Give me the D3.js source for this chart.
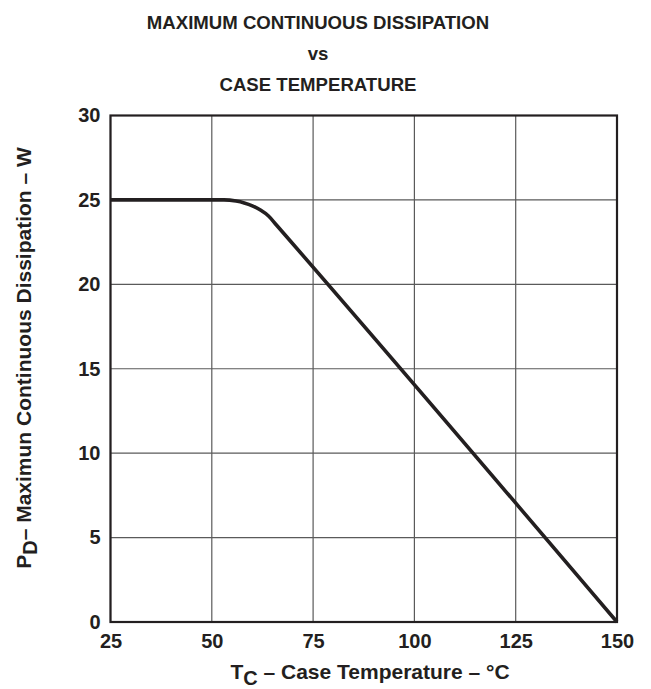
<!DOCTYPE html>
<html><head><meta charset="utf-8">
<script src="https://cdn.jsdelivr.net/npm/d3@7"></script>
<style>body{margin:0;background:#fff}</style>
</head><body>
<svg id="c" width="651" height="689"></svg>
<script>
const xTicks = [25, 50, 75, 100, 125, 150];
const yTicks = [0, 5, 10, 15, 20, 25, 30];
const tempC = [25, 50, 53, 56, 58, 60, 62, 64, 66, 150];
const powerW = [25, 25, 25, 24.93, 24.82, 24.65, 24.4, 24.05, 23.5, 0];
const titleLines = ["MAXIMUM CONTINUOUS DISSIPATION", "vs", "CASE TEMPERATURE"];

const svg = d3.select("#c");
const L = 110.5, R = 617, T = 115.5, B = 622;
const x = d3.scaleLinear().domain([25, 150]).range([L, R]);
const y = d3.scaleLinear().domain([0, 30]).range([B, T]);
const font = "'Liberation Sans', Arial, sans-serif";
const ink = "#231f20";

// grid
svg.append("g").selectAll("line").data(xTicks).join("line")
  .attr("x1", d => x(d)).attr("x2", d => x(d)).attr("y1", T).attr("y2", B)
  .attr("stroke", "#5a5a5a").attr("stroke-width", 1.2);
svg.append("g").selectAll("line").data(yTicks).join("line")
  .attr("y1", d => y(d)).attr("y2", d => y(d)).attr("x1", L).attr("x2", R)
  .attr("stroke", "#5a5a5a").attr("stroke-width", 1.2);

// frame
svg.append("rect").attr("x", L).attr("y", T).attr("width", R - L).attr("height", B - T)
  .attr("fill", "none").attr("stroke", ink).attr("stroke-width", 2.2);

// curve
const pts = tempC.map((t, i) => [t, powerW[i]]);
svg.append("path").datum(pts)
  .attr("d", d3.line().x(d => x(d[0])).y(d => y(d[1])).curve(d3.curveMonotoneX))
  .attr("fill", "none").attr("stroke", ink).attr("stroke-width", 3.6).attr("stroke-linejoin", "round");

// axes labels
const xAxis = d3.axisBottom(x).tickValues(xTicks).tickSize(0).tickPadding(12);
svg.append("g").attr("transform", `translate(0,${B})`).call(xAxis)
  .call(g => g.select(".domain").remove())
  .selectAll("text").attr("font-family", font).attr("font-weight", "bold").attr("font-size", 20).attr("fill", ink);
const yAxis = d3.axisLeft(y).tickValues(yTicks).tickSize(0).tickPadding(10);
svg.append("g").attr("transform", `translate(${L},0)`).call(yAxis)
  .call(g => g.select(".domain").remove())
  .selectAll("text").attr("font-family", font).attr("font-weight", "bold").attr("font-size", 20).attr("fill", ink);

// title
svg.append("g").selectAll("text").data(titleLines).join("text")
  .attr("x", 318).attr("y", (d, i) => 29 + i * 31)
  .attr("text-anchor", "middle").attr("font-family", font).attr("font-weight", "bold")
  .attr("font-size", 18.6).attr("fill", ink).text(d => d);

// x label
const xl = svg.append("text").attr("x", 370).attr("y", 679).attr("text-anchor", "middle")
  .attr("font-family", font).attr("font-weight", "bold").attr("font-size", 21).attr("fill", ink);
xl.append("tspan").text("T");
xl.append("tspan").attr("dy", 6).attr("font-size", 20).text("C");
xl.append("tspan").attr("dy", -6).text(" – Case Temperature – °C");

// y label
const yl = svg.append("text").attr("transform", "translate(31,358) rotate(-90)").attr("text-anchor", "middle")
  .attr("font-family", font).attr("font-weight", "bold").attr("font-size", 21).attr("fill", ink);
yl.append("tspan").text("P");
yl.append("tspan").attr("dy", 6).attr("font-size", 20).text("D");
yl.append("tspan").attr("dy", -6).text("– Maximun Continuous Dissipation – W");
</script>
</body></html>
